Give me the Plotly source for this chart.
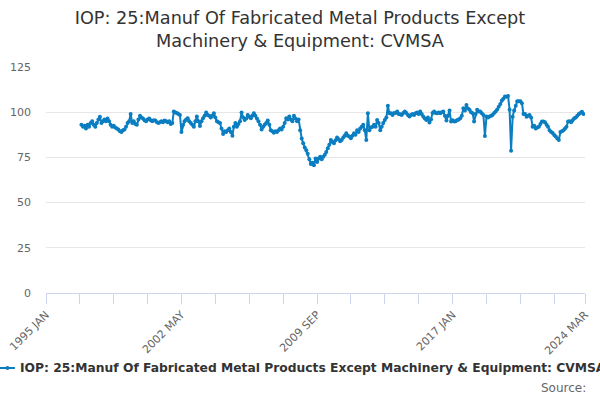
import pandas as pd
import plotly.graph_objects as go

# ---- data (monthly index, Dec 1996 .. Feb 2024) ----
start_month = "1996-12-01"
values_1997_2003 = [
    93, 92, 92.5, 91, 93, 92, 94, 95, 93, 92, 94, 96,
    97.5, 94, 95, 96, 95, 96.5, 95, 93, 92, 92.5, 91.5, 91,
    90.5, 89.5, 89, 90, 90.5, 92, 94, 95, 99, 94, 95, 93.5,
    93, 96, 98, 97, 96.5, 95.5, 95, 96, 96.5, 95.5, 95, 95.5,
    95.4, 94.5, 94, 94.5, 95, 94.5, 95.4, 95, 94.5, 95, 93.5, 94,
    100.4, 99.8, 99.5, 99, 98.5, 89, 93, 95, 96, 96.7, 95, 94,
    93, 92, 95, 97.6, 95, 92.4, 95, 96.7, 98, 99.8, 98.5, 98,
]
values_2004_2010 = [
    97, 98, 99.4, 97, 95, 94.5, 94, 91, 88, 89.5, 89, 90,
    91, 89, 87, 92, 94, 92, 93.5, 95, 99.8, 97, 95.7, 96.5,
    98.5, 97.5, 96.7, 98, 99.4, 98, 96.5, 95, 93, 90.5, 92, 93,
    94, 95.4, 93, 90, 89.5, 88.7, 89.5, 89, 90, 91, 90.5, 92,
    94, 96.7, 96, 97.6, 96, 95, 98, 96.5, 95, 96, 90, 85.5,
    82.8, 80.5, 79, 77, 74, 71.3, 72, 70.7, 74.4, 72.5, 74.4, 75.4,
    74, 75.4, 76.5, 78, 80, 82, 84.6, 83.5, 82.8, 84.5, 86, 85,
]
values_2011_2017 = [
    84, 84.6, 86, 87, 88.3, 87, 86.5, 85.6, 87, 88.3, 87.5, 90,
    89, 91, 92, 93, 90, 84.6, 99.4, 90, 91.5, 92, 93, 92,
    95.7, 94, 90, 92, 94, 95.7, 97, 103.5, 99.4, 99.4, 98.5, 99.5,
    99.5, 100.4, 99, 98.8, 98.5, 99.5, 100.4, 99.5, 98.5, 97.6, 98.5, 99,
    98.5, 99.4, 99.8, 99, 100.4, 99, 97.6, 96.5, 95.7, 97, 94.3, 96,
    99.5, 100.4, 99.5, 99.4, 99.8, 99.4, 100, 100.4, 98, 95.4, 98, 101,
    94.8, 95.5, 94.8, 95, 95.7, 96, 96.7, 98, 102.2, 101, 104, 102,
]
values_2018_2024 = [
    101.3, 100, 99.4, 94.8, 99, 101.3, 100.4, 100.4, 99.4, 98.5, 86.9, 97.6,
    97, 97.6, 98, 98.5, 99.5, 100.4, 101.5, 103, 104.5, 106.5, 107.5, 108.7,
    108.5, 109, 101.3, 78.7, 97.5, 101, 103.5, 106, 106, 106, 105, 99,
    99, 97.5, 98, 98.4, 97, 92, 92.5, 91, 91.5, 92, 93.5, 94.8,
    94.8, 94.4, 93, 92, 90, 89, 88.5, 87.4, 86.5, 85.5, 84.6, 89,
    89.5, 90, 91, 92, 94.8, 95, 94.4, 95.5, 96.7, 97, 98, 99,
    99.5, 100.3, 99,
]
series_values = values_1997_2003 + values_2004_2010 + values_2011_2017 + values_2018_2024
dates = pd.date_range(start_month, periods=len(series_values), freq="MS")

series_name = "IOP: 25:Manuf Of Fabricated Metal Products Except Machinery & Equipment: CVMSA"
title_text = "IOP: 25:Manuf Of Fabricated Metal Products Except<br>Machinery & Equipment: CVMSA"
x_tick_dates = ["1995-01-01", "2002-05-01", "2009-09-01", "2017-01-01", "2024-03-01"]
x_tick_labels = ["1995 JAN", "2002 MAY", "2009 SEP", "2017 JAN", "2024 MAR"]
y_ticks = [0, 25, 50, 75, 100, 125]

line_color = "#0b7dc1"
axis_color = "#ccd6eb"
font_family = "DejaVu Sans"

# layout geometry (pixels)
W, H = 600, 400
ML, MR, MT, MB = 46, 15, 67, 107
PW, PH = W - ML - MR, H - MT - MB


def px_x(px):
    return (px - ML) / PW


def px_y(py):
    return (H - MB - py) / PH


fig = go.Figure()
fig.add_trace(go.Scatter(
    x=dates, y=series_values, mode="lines+markers", name=series_name,
    line=dict(color=line_color, width=2),
    marker=dict(color=line_color, size=4),
    showlegend=False,
))

fig.update_layout(
    width=W, height=H,
    margin=dict(l=ML, r=MR, t=MT, b=MB, autoexpand=False),
    paper_bgcolor="white", plot_bgcolor="white",
    font=dict(family=font_family, color="#666666", size=11),
    title=dict(
        text=title_text,
        x=0.5, xanchor="center", xref="container",
        y=1 - 24 / H, yanchor="middle", yref="container",
        font=dict(family=font_family, size=17.7, color="#333333"),
    ),
    showlegend=False,
    xaxis=dict(
        type="date", automargin=False,
        range=["1995-01-01", "2024-03-01"],
        tickmode="array", tickvals=x_tick_dates, ticktext=x_tick_labels,
        tickangle=-45, ticks="outside", ticklen=10, tickcolor=axis_color,
        showgrid=False, showline=True, linecolor=axis_color, linewidth=1,
        zeroline=False,
        tickfont=dict(size=11, color="#666666"),
        minor=dict(ticks="outside", ticklen=10, tickcolor=axis_color,
                   dtick="M22", tick0="1995-01-01", showgrid=False),
    ),
    yaxis=dict(
        range=[0, 125], tickmode="array", tickvals=y_ticks, automargin=False,
        showgrid=True, gridcolor="#e6e6e6", gridwidth=1,
        zeroline=False, showline=False, ticks="",
        ticklabelstandoff=14,
        tickfont=dict(size=11, color="#666666"),
    ),
)

# legend (drawn manually so it can run off the right edge like the reference)
legend_y = px_y(368)
fig.add_shape(type="line", xref="paper", yref="paper",
              x0=px_x(0), x1=px_x(15), y0=legend_y, y1=legend_y,
              line=dict(color=line_color, width=2))
fig.add_shape(type="circle", xref="paper", yref="paper",
              x0=px_x(5.5), x1=px_x(9.5), y0=px_y(370), y1=px_y(366),
              fillcolor=line_color, line=dict(color=line_color, width=0))
fig.add_annotation(
    text="<b>" + series_name + "</b>", xref="paper", yref="paper",
    x=px_x(18), y=legend_y, xanchor="left", yanchor="middle", showarrow=False,
    font=dict(family=font_family, size=12.3, color="#333333"),
)
fig.add_annotation(
    text="Source:", xref="paper", yref="paper", x=px_x(588), y=px_y(388),
    xanchor="right", yanchor="middle", showarrow=False,
    font=dict(family=font_family, size=12, color="#666666"),
)

fig.write_html(
    "out.html",
    config={"displayModeBar": False},
    post_script="document.body.style.margin='0';",
)
